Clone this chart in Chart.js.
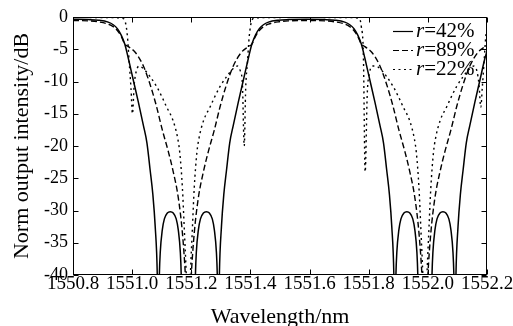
<!DOCTYPE html>
<html><head><meta charset="utf-8">
<script src="https://cdn.jsdelivr.net/npm/chart.js@4/dist/chart.umd.min.js"></script>
<style>html,body{margin:0;padding:0;background:#fff;}canvas{display:block;}</style>
</head><body>
<canvas id="c" width="513" height="326"></canvas>
<script>
// ---- data (wavelength in nm, normalized output in dB) ----
const wl42=[1550.800,1550.852,1550.886,1550.919,1550.936,1550.950,1550.963,1550.975,1550.987,1551.004,1551.021,1551.038,1551.050,1551.061,1551.070,1551.078,1551.085,1551.088,1551.092,1551.095,1551.102,1551.109,1551.119,1551.129,1551.139,1551.149,1551.156,1551.163,1551.166,1551.170,1551.190,1551.210,1551.214,1551.217,1551.224,1551.231,1551.241,1551.251,1551.261,1551.271,1551.278,1551.285,1551.288,1551.292,1551.295,1551.302,1551.310,1551.319,1551.330,1551.342,1551.359,1551.376,1551.393,1551.405,1551.417,1551.430,1551.444,1551.461,1551.494,1551.528,1551.590,1551.652,1551.686,1551.719,1551.736,1551.750,1551.763,1551.775,1551.787,1551.804,1551.821,1551.838,1551.850,1551.861,1551.870,1551.878,1551.885,1551.888,1551.892,1551.895,1551.902,1551.909,1551.919,1551.929,1551.939,1551.949,1551.956,1551.963,1551.966,1551.970,1551.990,1552.010,1552.014,1552.017,1552.024,1552.031,1552.041,1552.051,1552.061,1552.071,1552.078,1552.085,1552.088,1552.092,1552.095,1552.102,1552.110,1552.119,1552.130,1552.142,1552.159,1552.176,1552.193,1552.200];
const db42=[-0.35,-0.4,-0.5,-0.8,-1.2,-1.8,-2.8,-4.2,-6.4,-9.8,-13.2,-16.8,-19.5,-23.8,-27.5,-32.5,-40,-50,-40,-36.5,-33,-31.3,-30.4,-30.2,-30.4,-31.3,-33,-36.5,-40,-50,-48,-50,-40,-36.5,-33,-31.3,-30.4,-30.2,-30.4,-31.3,-33,-36.5,-40,-50,-40,-32.5,-27.5,-23.8,-19.5,-16.8,-13.2,-9.8,-6.4,-4.2,-2.8,-1.8,-1.2,-0.8,-0.5,-0.4,-0.35,-0.4,-0.5,-0.8,-1.2,-1.8,-2.8,-4.2,-6.4,-9.8,-13.2,-16.8,-19.5,-23.8,-27.5,-32.5,-40,-50,-40,-36.5,-33,-31.3,-30.4,-30.2,-30.4,-31.3,-33,-36.5,-40,-50,-48,-50,-40,-36.5,-33,-31.3,-30.4,-30.2,-30.4,-31.3,-33,-36.5,-40,-50,-40,-32.5,-27.5,-23.8,-19.5,-16.8,-13.2,-9.8,-6.4,-5.3];

const wl89=[1550.800,1550.852,1550.886,1550.919,1550.936,1550.950,1550.963,1550.975,1550.987,1551.011,1551.038,1551.061,1551.082,1551.102,1551.122,1551.139,1551.156,1551.170,1551.180,1551.190,1551.200,1551.210,1551.224,1551.241,1551.258,1551.278,1551.298,1551.319,1551.342,1551.369,1551.393,1551.405,1551.417,1551.430,1551.444,1551.461,1551.494,1551.528,1551.590,1551.652,1551.686,1551.719,1551.736,1551.750,1551.763,1551.775,1551.787,1551.811,1551.838,1551.861,1551.882,1551.902,1551.922,1551.939,1551.956,1551.970,1551.980,1551.990,1552.000,1552.010,1552.024,1552.041,1552.058,1552.078,1552.098,1552.119,1552.142,1552.169,1552.193,1552.200];
const db89=[-0.55,-0.6,-0.75,-1.1,-1.5,-2.1,-3.0,-4.2,-4.6,-5.5,-7.6,-10.5,-13.8,-17.5,-20.8,-24,-28,-33.5,-40,-50,-40,-33.5,-28,-24,-20.8,-17.5,-13.8,-10.5,-7.6,-5.5,-4.6,-4.2,-3.0,-2.1,-1.5,-1.1,-0.75,-0.6,-0.55,-0.6,-0.75,-1.1,-1.5,-2.1,-3.0,-4.2,-4.6,-5.5,-7.6,-10.5,-13.8,-17.5,-20.8,-24,-28,-33.5,-40,-50,-40,-33.5,-28,-24,-20.8,-17.5,-13.8,-10.5,-7.6,-5.5,-4.6,-4.4];

const wl22=[1550.800,1550.936,1550.967,1550.977,1550.984,1550.990,1550.996,1551.001,1551.007,1551.014,1551.024,1551.038,1551.060,1551.083,1551.102,1551.117,1551.138,1551.154,1551.161,1551.170,1551.176,1551.183,1551.190,1551.197,1551.204,1551.210,1551.219,1551.226,1551.242,1551.263,1551.278,1551.297,1551.320,1551.342,1551.356,1551.366,1551.373,1551.379,1551.384,1551.390,1551.396,1551.403,1551.413,1551.444,1551.590,1551.736,1551.767,1551.775,1551.782,1551.788,1551.795,1551.803,1551.814,1551.824,1551.838,1551.860,1551.883,1551.902,1551.917,1551.938,1551.954,1551.961,1551.970,1551.976,1551.983,1551.990,1551.997,1552.004,1552.010,1552.019,1552.026,1552.042,1552.063,1552.078,1552.097,1552.120,1552.142,1552.156,1552.166,1552.173,1552.179,1552.184,1552.190,1552.196,1552.200];
const db22=[-0.05,-0.1,-0.2,-0.8,-3,-7,-11,-15,-10.5,-8.4,-7.6,-8,-9.2,-10.8,-12.5,-14,-16,-18.8,-21,-26.5,-32.5,-40,-50,-40,-32.5,-26.5,-21,-18.8,-16,-14,-12.5,-10.8,-9.2,-8,-7.6,-8.4,-10.5,-20,-11,-7,-3,-0.8,-0.2,-0.1,-0.05,-0.1,-0.2,-1.5,-6,-24,-12,-8.6,-7.6,-7.6,-8,-9.2,-10.8,-12.5,-14,-16,-18.8,-21,-26.5,-32.5,-40,-50,-40,-32.5,-26.5,-21,-18.8,-16,-14,-12.5,-10.8,-9.2,-8,-7.6,-8.4,-10.5,-14,-11,-7,-3,-1.8];

const seriesLabels=['r=42%','r=89%','r=22%'];
const xTickValues=[1550.8,1551.0,1551.2,1551.4,1551.6,1551.8,1552.0,1552.2];
const yTickValues=[0,-5,-10,-15,-20,-25,-30,-35,-40];

// ---- chart ----
const FONT='"Liberation Serif","Times New Roman",Times,serif';
function pts(xs,ys){return xs.map((x,i)=>({x:x,y:ys[i]}));}

const framePlugin={
  id:'frame',
  afterDatasetsDraw(chart){
    const {ctx,chartArea:a,scales}=chart;
    const L=Math.round(a.left)+0.5,R=Math.round(a.right)-0.5,T=Math.round(a.top)+0.5,B=Math.round(a.bottom)-0.5;
    ctx.save();
    ctx.strokeStyle='#000';ctx.lineWidth=1;ctx.setLineDash([]);
    ctx.strokeRect(L,T,R-L,B-T);
    const tl=5;
    ctx.beginPath();
    xTickValues.forEach(v=>{
      const px=Math.round(scales.x.getPixelForValue(v))+0.5;
      ctx.moveTo(px,B);ctx.lineTo(px,B-tl);
      ctx.moveTo(px,T);ctx.lineTo(px,T+tl);
    });
    yTickValues.forEach(v=>{
      const py=Math.round(scales.y.getPixelForValue(v))+0.5;
      ctx.moveTo(L,py);ctx.lineTo(L+tl,py);
      ctx.moveTo(R,py);ctx.lineTo(R-tl,py);
    });
    ctx.stroke();
    ctx.restore();
  },
  afterDraw(chart){
    const {ctx,chartArea:a}=chart;
    ctx.save();
    chart.data.datasets.forEach((ds,i)=>{
      const base=a.top+20+i*19;
      const sy=base-5.5;
      ctx.strokeStyle=ds.borderColor;ctx.lineWidth=1.2;
      ctx.setLineDash(ds.borderDash||[]);
      ctx.beginPath();ctx.moveTo(a.right-94,sy);ctx.lineTo(a.right-74,sy);ctx.stroke();
      ctx.setLineDash([]);
      ctx.fillStyle='#000';ctx.textBaseline='alphabetic';ctx.textAlign='left';
      const lab=ds.label;
      let x=a.right-71;
      ctx.font='italic 21px '+FONT;
      ctx.fillText(lab.charAt(0),x,base);
      x+=ctx.measureText(lab.charAt(0)).width;
      ctx.font='21px '+FONT;
      ctx.fillText(lab.slice(1),x,base);
    });
    ctx.restore();
  }
};

new Chart(document.getElementById('c'),{
  type:'line',
  data:{datasets:[
    {label:seriesLabels[0],data:pts(wl42,db42),borderColor:'#000',borderWidth:1.5,borderDash:[],cubicInterpolationMode:'monotone'},
    {label:seriesLabels[1],data:pts(wl89,db89),borderColor:'#000',borderWidth:1.4,borderDash:[6,3],cubicInterpolationMode:'monotone'},
    {label:seriesLabels[2],data:pts(wl22,db22),borderColor:'#000',borderWidth:1.4,borderDash:[2,3.5],cubicInterpolationMode:'monotone'}
  ]},
  options:{
    responsive:false,animation:false,devicePixelRatio:1,
    layout:{padding:{left:0,top:17,right:26,bottom:0}},
    plugins:{legend:{display:false},tooltip:{enabled:false}},
    elements:{point:{radius:0},line:{tension:0,fill:false}},
    scales:{
      x:{type:'linear',min:1550.8,max:1552.2,
        afterBuildTicks(s){s.ticks=xTickValues.map(v=>({value:v}));},
        ticks:{autoSkip:false,maxRotation:0,minRotation:0,padding:0,color:'#000',
          font:{family:FONT,size:19,lineHeight:0.9},callback:(v)=>Number(v).toFixed(1)},
        grid:{display:false,drawTicks:false},border:{display:false},
        title:{display:true,text:'Wavelength/nm',color:'#000',font:{family:FONT,size:22,lineHeight:0.8},padding:0},
        afterFit(s){s.height=51;s.paddingLeft=0;s.paddingRight=0;}
      },
      y:{type:'linear',min:-40,max:0,
        afterBuildTicks(s){s.ticks=yTickValues.map(v=>({value:v}));},
        ticks:{padding:5,color:'#000',font:{family:FONT,size:18},callback:(v)=>String(v)},
        grid:{display:false,drawTicks:false},border:{display:false},
        title:{display:true,text:'Norm output intensity/dB',color:'#000',font:{family:FONT,size:22,lineHeight:1.2},padding:{top:9,bottom:0}},
        afterFit(s){s.width=73;s.paddingTop=0;s.paddingBottom=0;}
      }
    }
  },
  plugins:[framePlugin]
});
</script>
</body></html>
